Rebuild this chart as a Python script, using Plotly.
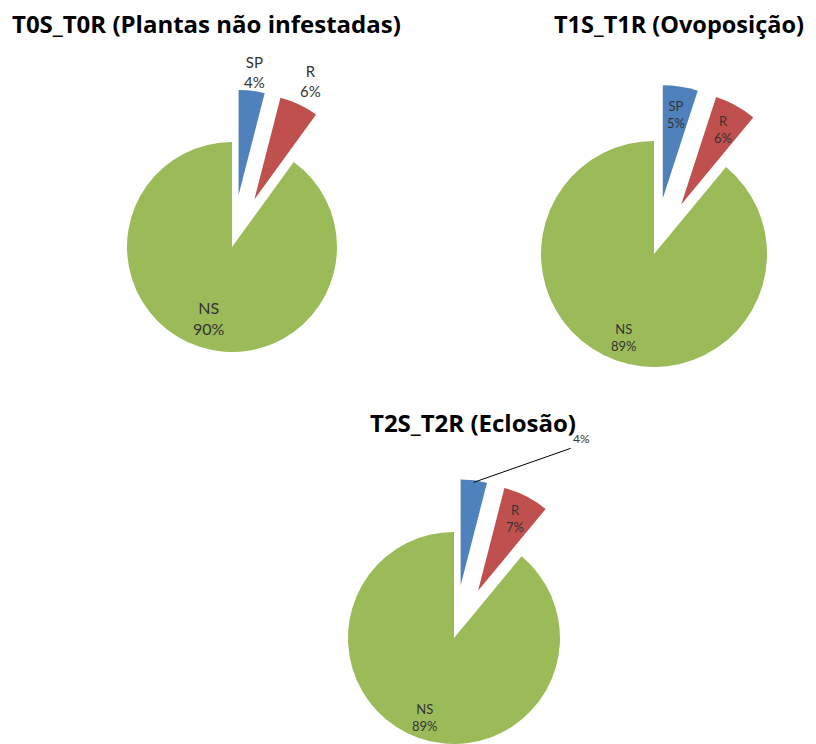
import math
import plotly.graph_objects as go

# ---------------- data ----------------
categories = ["SP", "R", "NS"]
t0_values = [4, 6, 90]
t1_values = [5, 6, 89]
t2_values = [4, 7, 89]
titles = ["T0S_T0R (Plantas não infestadas)", "T1S_T1R (Ovoposição)", "T2S_T2R (Eclosão)"]

# ---------------- style ----------------
OFF = 8                      # default page (body) margin of the html page
W, H = 816 - OFF, 744 - OFF  # figure size so it fits the window exactly
colors = ["#4F81BD", "#C0504D", "#9BBB59"]
pulls = [0.5, 0.5, 0.0]
# pie centre (page px), radius (px), label radius (fraction of r, None = leader line), font sizes
pies = [
    dict(values=t0_values, cx=232, cy=247, r=105, lab_frac=[1.18, 1.25, 0.71], fsize=[15, 15, 16]),
    dict(values=t1_values, cx=654, cy=254, r=113, lab_frac=[0.75, 0.76, 0.79], fsize=[13, 13, 13]),
    dict(values=t2_values, cx=454, cy=638, r=106, lab_frac=[None, 0.77, 0.80], fsize=[13, 13, 13]),
]
title_pos = [(206, 24), (679, 24), (473, 422)]
title_size = [24, 23.5, 24]
FONT = "Lato"
TITLE_FONT = "Open Sans"
TXT = "#333333"

fig = go.Figure()


def clamp(v):
    return min(1.0, max(0.0, v))


def px_to_paper(x, y):
    return (x - OFF) / W, 1 - (y - OFF) / H


for p in pies:
    vals = p["values"]
    tot = float(sum(vals))
    cum = 0.0
    for i, v in enumerate(vals):
        mid = (cum + v / 2.0) / tot * 2 * math.pi
        cum += v
        r = p["r"]
        off = pulls[i] * r
        pcx = p["cx"] + off * math.sin(mid)   # centre of the (pulled) slice, page px
        pcy = p["cy"] - off * math.cos(mid)
        cx, cy = pcx - OFF, pcy - OFF
        dom_x = [clamp((cx - r) / W), clamp((cx + r) / W)]
        dom_y = [clamp(1 - (cy + r) / H), clamp(1 - (cy - r) / H)]
        slice_colors = ["rgba(0,0,0,0)"] * len(vals)
        slice_colors[i] = colors[i]
        fig.add_trace(go.Pie(
            labels=categories, values=vals, sort=False, direction="clockwise",
            rotation=0, domain=dict(x=dom_x, y=dom_y),
            marker=dict(colors=slice_colors, line=dict(width=0)),
            textinfo="none", hoverinfo="skip", showlegend=False,
        ))
        frac = p["lab_frac"][i]
        pct = round(v / tot * 100)
        if frac is not None:
            lr = frac * r
            lx, ly = px_to_paper(pcx + lr * math.sin(mid), pcy - lr * math.cos(mid))
            fig.add_annotation(x=lx, y=ly, xref="paper", yref="paper", showarrow=False,
                               text="%s<br>%d%%" % (categories[i], pct),
                               font=dict(family=FONT, size=p["fsize"][i], color=TXT),
                               xanchor="center", yanchor="middle")
        else:
            # leader-line label
            tipx = pcx + 0.98 * r * math.sin(mid)
            tipy = pcy - 0.98 * r * math.cos(mid)
            tx_, ty_ = px_to_paper(tipx, tipy)
            fig.add_annotation(x=tx_, y=ty_, xref="paper", yref="paper",
                               text="%d%%" % pct, showarrow=True,
                               arrowhead=0, arrowwidth=1, arrowcolor="#000000",
                               ax=97, ay=-34, xanchor="left", yanchor="bottom",
                               font=dict(family=FONT, size=12, color=TXT))

# title annotations
for (tx, ty), t, ts in zip(title_pos, titles, title_size):
    ax_, ay_ = px_to_paper(tx, ty)
    fig.add_annotation(x=ax_, y=ay_, xref="paper", yref="paper",
                       text="<b>" + t + "</b>", showarrow=False,
                       font=dict(family=TITLE_FONT, size=ts, color="#000000"),
                       xanchor="center", yanchor="middle")

fig.update_layout(width=W, height=H, margin=dict(l=0, r=0, t=0, b=0),
                  paper_bgcolor="white", plot_bgcolor="white")
fig.write_html("out.html")
